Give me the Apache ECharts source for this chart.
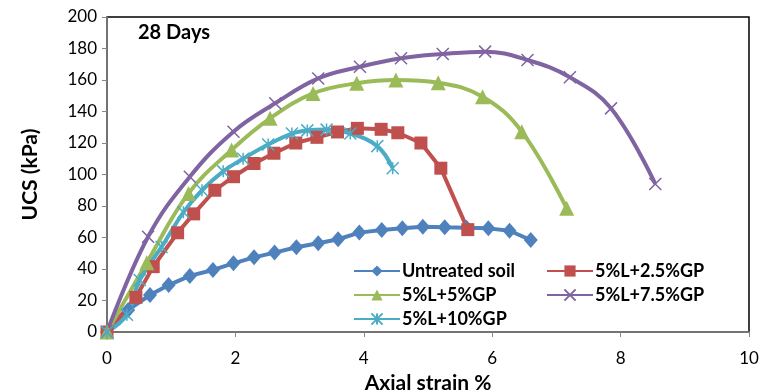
<!DOCTYPE html>
<html>
<head>
<meta charset="utf-8">
<title>UCS 28 Days</title>
<script src="https://cdn.jsdelivr.net/npm/echarts@6/dist/echarts.min.js"></script>
<style>
	html, body { margin: 0; padding: 0; background: #fff; }
	#chart { width: 759px; height: 392px; }
</style>
</head>
<body>
<div id="chart"></div>
<script>
var xTicks = [0, 2, 4, 6, 8, 10];
var yTicks = [0, 20, 40, 60, 80, 100, 120, 140, 160, 180, 200];

var seriesNames = ['Untreated soil', '5%L+2.5%GP', '5%L+5%GP', '5%L+7.5%GP', '5%L+10%GP'];

var soilStrain = [0, 0.33, 0.67, 0.96, 1.29, 1.65, 1.97, 2.29, 2.61, 2.95, 3.29, 3.60, 3.93, 4.28, 4.60, 4.92, 5.26, 5.60, 5.94, 6.27, 6.60];
var soilUcs    = [0, 14, 23.5, 29.8, 35.6, 39.4, 43.6, 47.4, 50.4, 53.8, 56.3, 58.9, 63.1, 64.8, 65.8, 66.9, 66.5, 66.2, 65.8, 64.3, 58.4];

var gp25Strain = [0, 0.45, 0.72, 1.10, 1.35, 1.68, 1.97, 2.29, 2.60, 2.94, 3.27, 3.59, 3.90, 4.27, 4.53, 4.89, 5.20, 5.62];
var gp25Ucs    = [0, 22, 41.5, 63, 75, 90, 98.6, 107, 113.5, 120, 123.6, 127, 129.3, 128.7, 126.5, 120, 104, 65];

var gp5Strain = [0, 0.62, 1.27, 1.94, 2.54, 3.21, 3.89, 4.50, 5.16, 5.85, 6.46, 7.16];
var gp5Ucs    = [0, 44, 88, 115.6, 135.7, 151.5, 157.9, 160, 158.3, 149.4, 127.2, 78.5];

var gp75Strain = [0, 0.64, 1.29, 1.97, 2.62, 3.29, 3.94, 4.58, 5.23, 5.89, 6.55, 7.21, 7.85, 8.54];
var gp75Ucs    = [0, 60.5, 98.6, 127.2, 145.2, 161, 168.4, 173.8, 176.5, 178, 172.7, 161.7, 142, 94];

var gp10Strain = [0, 0.31, 0.51, 0.85, 1.19, 1.48, 1.81, 2.12, 2.51, 2.88, 3.12, 3.42, 3.79, 4.21, 4.45];
var gp10Ucs    = [0, 11, 33, 54, 76, 90, 102, 110, 119, 126, 128, 128.5, 126, 118, 104];

function pairs(xs, ys) {
	return xs.map(function(x, i) { return [x, ys[i]]; });
}

var FONT = 'Lato, "Open Sans", sans-serif';
var colors = ['#4f81bd', '#c0504d', '#9bbb59', '#8064a2', '#4bacc6'];
var xMark = 'path://M0,0L10,10M10,0L0,10';
var starMark = 'path://M5,0L5,10M0,0L10,10M10,0L0,10';

function legendAt(name, left, top) {
	return {
		data: [name],
		left: left,
		top: top,
		padding: 0,
		itemWidth: 46,
		itemHeight: 14,
		itemGap: 4,
		textStyle: { fontFamily: FONT, fontSize: 18, fontWeight: 'bold', color: '#000', padding: [0, 0, 0, -3] }
	};
}

var myChart = echarts.init(document.getElementById('chart'));
var option = {
	animation: false,
	color: colors,
	grid: {
		left: 107, right: 10, top: 17, bottom: 60,
		outerBoundsMode: 'none', containLabel: false,
		show: true, borderColor: '#000', borderWidth: 1.5, backgroundColor: '#fff'
	},
	legend: [
		legendAt(seriesNames[0], 353, 262),
		legendAt(seriesNames[1], 546, 262),
		legendAt(seriesNames[2], 353, 286),
		legendAt(seriesNames[3], 546, 286),
		legendAt(seriesNames[4], 353, 310)
	],
	graphic: [{
		type: 'text', left: 138, top: 23,
		style: { text: '28 Days', font: 'bold 20px ' + FONT, fill: '#000' }
	}],
	xAxis: {
		type: 'value', min: 0, max: 10, interval: 2,
		name: 'Axial strain %', nameLocation: 'middle', nameGap: 41,
		nameTextStyle: { fontFamily: FONT, fontSize: 21, fontWeight: 'bold', color: '#000' },
		axisLine: { onZero: false, lineStyle: { color: '#868686', width: 1.5 } },
		axisTick: { show: true, length: 5, lineStyle: { color: '#868686' } },
		axisLabel: { fontFamily: FONT, fontSize: 17, color: '#000', margin: 18,
			formatter: function(v) { return xTicks.indexOf(v) >= 0 ? v : ''; } },
		splitLine: { show: false }
	},
	yAxis: {
		type: 'value', min: 0, max: 200, interval: 20,
		name: 'UCS (kPa)', nameLocation: 'middle', nameGap: 66,
		nameTextStyle: { fontFamily: FONT, fontSize: 21, fontWeight: 'bold', color: '#000' },
		axisLine: { show: true, lineStyle: { color: '#868686', width: 1.5 } },
		axisTick: { show: true, length: 5, lineStyle: { color: '#868686' } },
		axisLabel: { fontFamily: FONT, fontSize: 17, color: '#000', margin: 10,
			formatter: function(v) { return yTicks.indexOf(v) >= 0 ? v : ''; } },
		splitLine: { show: false }
	},
	series: [
		{
			name: seriesNames[0], type: 'line', data: pairs(soilStrain, soilUcs),
			symbol: 'diamond', symbolSize: [14, 16], lineStyle: { width: 4 }
		},
		{
			name: seriesNames[1], type: 'line', data: pairs(gp25Strain, gp25Ucs),
			symbol: 'rect', symbolSize: 13, lineStyle: { width: 4 }
		},
		{
			name: seriesNames[2], type: 'line', smooth: 0.4, data: pairs(gp5Strain, gp5Ucs),
			symbol: 'triangle', symbolSize: 15, lineStyle: { width: 4 }
		},
		{
			name: seriesNames[3], type: 'line', smooth: 0.4, data: pairs(gp75Strain, gp75Ucs),
			symbol: xMark, symbolSize: 12,
			itemStyle: { color: colors[3], borderColor: colors[3], borderWidth: 1.5 },
			lineStyle: { width: 4 }
		},
		{
			name: seriesNames[4], type: 'line', smooth: 0.4, data: pairs(gp10Strain, gp10Ucs),
			symbol: starMark, symbolSize: 12,
			itemStyle: { color: colors[4], borderColor: colors[4], borderWidth: 1.5 },
			lineStyle: { width: 4 }
		}
	]
};
myChart.setOption(option);
</script>
</body>
</html>
